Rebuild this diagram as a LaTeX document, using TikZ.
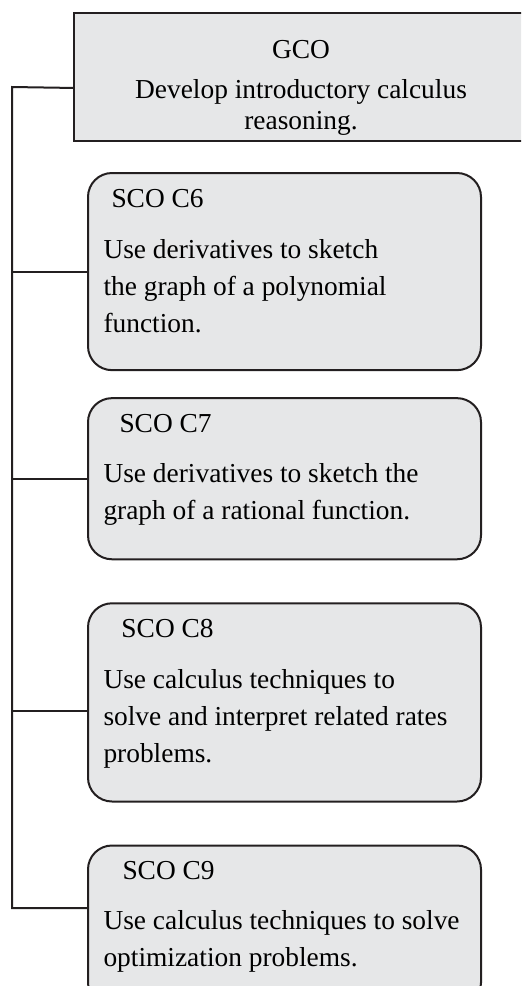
\documentclass[tikz,border=0pt]{standalone}
\usepackage{fontspec}
\setmainfont{Liberation Serif}
\usepackage{tikz}
\usetikzlibrary{positioning}

\definecolor{boxgray}{RGB}{230,231,232}
\definecolor{inkline}{RGB}{35,31,32}

\begin{document}
\begin{tikzpicture}[
    x=0.5pt, y=-0.5pt,
    gcobox/.style={draw=inkline, line width=1pt, fill=boxgray, anchor=north west, text width=211pt, inner xsep=8pt, inner ysep=3pt, align=flush center, font=\fontsize{13.7}{15.5}\selectfont},
    scobox/.style={draw=inkline, line width=1pt, fill=boxgray, rounded corners=12pt, text width=181pt, inner xsep=7.75pt, inner ysep=8pt, align=flush left, font=\fontsize{13.7}{18.5}\selectfont},
    link/.style={draw=inkline, line width=1pt}
]
\clip (0,0) rectangle (521,986);

% General outcome
\node[gcobox] (gco) at (73,12) {\rule{0pt}{19.5pt}GCO\\[4.5pt] Develop introductory calculus\\ reasoning.};

% Specific outcomes
\node[scobox, anchor=north west] (c6) at (87,172) {\hspace*{4pt}SCO C6\\[7pt] Use derivatives to sketch\\ the graph of a polynomial\\ function.\rule[-11pt]{0pt}{11pt}};
\node[scobox, below=13pt of c6.south west, anchor=north west] (c7) {\hspace*{8pt}SCO C7\\[6.5pt] Use derivatives to sketch the\\ graph of a rational function.\rule[-12pt]{0pt}{12pt}};
\node[scobox, below=21pt of c7.south west, anchor=north west] (c8) {\hspace*{9pt}SCO C8\\[7pt] Use calculus techniques to\\ solve and interpret related rates\\ problems.\rule[-11.5pt]{0pt}{11.5pt}};
\node[scobox, below=21pt of c8.south west, anchor=north west] (c9) {\hspace*{9.5pt}SCO C9\\[6.5pt] Use calculus techniques to solve\\ optimization problems.\rule[-12pt]{0pt}{12pt}};

% Connectors
\coordinate (trunk) at (12,87);
\draw[link] ([yshift=-5.5pt]gco.west) -- (trunk) |- ([yshift=9pt]c9.west);
\draw[link] (c6.west -| trunk) -- (c6.west);
\draw[link] (c7.west -| trunk) -- (c7.west);
\draw[link] ([yshift=-4.25pt]c8.west -| trunk) -- ([yshift=-4.25pt]c8.west);

\end{tikzpicture}
\end{document}
